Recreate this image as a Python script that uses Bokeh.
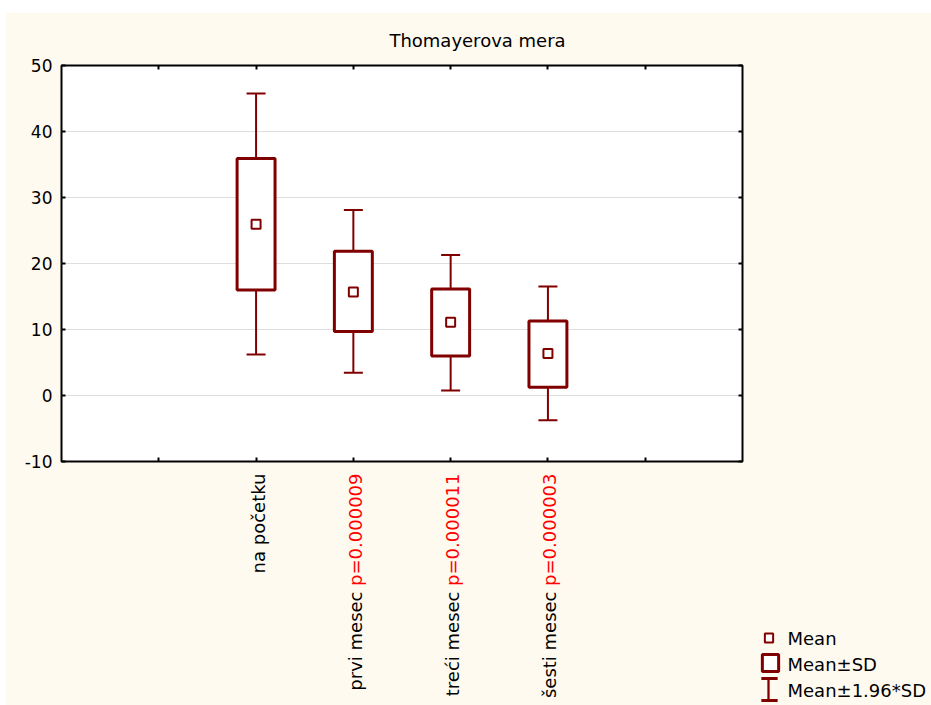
import math
from bokeh.plotting import figure
from bokeh.models import (ColumnDataSource, Range1d, LinearAxis, FixedTicker, Whisker,
                          TeeHead, Label, Grid)
from bokeh.embed import file_html
from bokeh.resources import INLINE

# ---------------- data ----------------
categories = ["na početku", "prvi mesec", "treći mesec", "šesti mesec"]
p_values = ["", "p=0.000009", "p=0.000011", "p=0.000003"]
positions = [2, 3, 4, 5]
means = [25.95, 15.7, 11.1, 6.35]
sd_low = [16.0, 9.7, 6.0, 1.25]
sd_high = [35.9, 21.85, 16.15, 11.3]
ci_low = [6.2, 3.45, 0.75, -3.75]
ci_high = [45.75, 28.1, 21.3, 16.5]
y_ticks = [-10, 0, 10, 20, 30, 40, 50]
y_tick_labels = ["-10", "0", "10", "20", "30", "40", "50"]
grid_ticks = [0, 10, 20, 30, 40]
x_ticks = [1, 2, 3, 4, 5, 6]
title_text = "Thomayerova mera"
legend_labels = ["Mean", "Mean±SD", "Mean±1.96*SD"]

CREAM = "#fffaf0"
MAROON = "#800000"
FONT = "DejaVu Sans"
W, H = 926, 693

src = ColumnDataSource(dict(x=positions, mean=means, lo=sd_low, hi=sd_high,
                            clo=ci_low, chi=ci_high))

p = figure(width=W, height=H, x_range=Range1d(0, 7), y_range=Range1d(-10, 50),
           output_backend="svg", toolbar_location=None,
           x_axis_location=None, y_axis_location=None,
           min_border_left=56, min_border_right=189, min_border_top=53,
           min_border_bottom=244,
           background_fill_color="white", border_fill_color=CREAM,
           outline_line_color="black", outline_line_width=2)
p.xgrid.visible = False
p.ygrid.visible = False
p.title.visible = False
p.margin = (12, 0, 0, 5)


def mk_axis(ticks, labels):
    ax = LinearAxis(ticker=FixedTicker(ticks=ticks))
    ax.axis_line_color = None
    ax.major_tick_in = 4
    ax.major_tick_out = 0
    ax.major_tick_line_color = "black"
    ax.major_tick_line_width = 2
    ax.minor_tick_line_color = None
    if labels:
        ax.major_label_text_font = FONT
        ax.major_label_text_font_size = "17px"
        ax.major_label_text_color = "black"
        ax.major_label_standoff = 9
        ax.major_label_overrides = dict(zip(ticks, y_tick_labels))
    else:
        ax.major_label_text_font_size = "0px"
        ax.major_label_text_color = None
        ax.major_label_standoff = 0
    return ax


p.add_layout(mk_axis(y_ticks, True), "left")
p.add_layout(mk_axis(y_ticks, False), "right")
p.add_layout(mk_axis(x_ticks, False), "below")
p.add_layout(mk_axis(x_ticks, False), "above")
p.add_layout(Grid(dimension=1, ticker=FixedTicker(ticks=grid_ticks),
                  grid_line_color="#dedede", grid_line_width=1))

# whiskers (drawn under boxes)
p.add_layout(Whisker(source=src, base="x", lower="clo", upper="chi",
                     line_color=MAROON, line_width=2,
                     lower_head=TeeHead(size=19, line_color=MAROON, line_width=2),
                     upper_head=TeeHead(size=19, line_color=MAROON, line_width=2)))

p.vbar(x="x", bottom="lo", top="hi", width=0.39, source=src,
       fill_color="white", line_color=MAROON, line_width=3)
p.scatter(x="x", y="mean", source=src, marker="square", size=9,
          fill_color="white", line_color=MAROON, line_width=2)

# title (side-panel label, canvas units)
p.add_layout(Label(x=472, y=28, x_units="canvas", y_units="canvas", text=title_text,
                   text_align="center", text_baseline="middle",
                   text_font=FONT, text_font_size="18px", text_color="black"),
             "below")

# category labels (rotated, black name + red p-value); placed in the right
# side panel (not clipped), positioned with data x / canvas y
for pos, name, pv in zip(positions, categories, p_values):
    if pv:
        p.add_layout(Label(x=pos, y=461, x_units="data", y_units="canvas",
                           x_offset=2, angle=math.pi / 2, text=pv,
                           text_align="right", text_baseline="middle",
                           text_font=FONT, text_font_size="18px", text_color="red"),
                     "right")
        p.add_layout(Label(x=pos, y=579, x_units="data", y_units="canvas",
                           x_offset=2, angle=math.pi / 2, text=name,
                           text_align="right", text_baseline="middle",
                           text_font=FONT, text_font_size="18px", text_color="black"),
                     "right")
    else:
        p.add_layout(Label(x=pos, y=461, x_units="data", y_units="canvas",
                           x_offset=2, angle=math.pi / 2, text=name,
                           text_align="right", text_baseline="middle",
                           text_font=FONT, text_font_size="18px", text_color="black"),
                     "right")

# ---------------- legend ----------------
for lab, yy in zip(legend_labels, [626, 652, 678]):
    p.add_layout(Label(x=782, y=yy, x_units="canvas", y_units="canvas", text=lab,
                       text_align="left", text_baseline="middle",
                       text_font=FONT, text_font_size="18px", text_color="black"),
                 "below")


def key_box(cx, cy, pad, fill, border_w):
    return Label(x=cx, y=cy, x_units="canvas", y_units="canvas", text=".",
                 text_font_size="1px", text_align="center", text_baseline="middle",
                 text_color=fill, padding=pad,
                 background_fill_color=fill, background_fill_alpha=1.0,
                 border_line_color=MAROON if border_w else None,
                 border_line_width=border_w or 1)


p.add_layout(key_box(763.5, 625.5, 4, "white", 2), "below")
p.add_layout(key_box(765, 650.5, 8, "white", 3), "below")
# whisker key: stem + two caps, padding given as (x, y)
p.add_layout(key_box(763, 677, (1, 10), MAROON, 0), "below")
p.add_layout(key_box(764, 666, (8, 1), MAROON, 0), "below")
p.add_layout(key_box(764, 688, (8, 1), MAROON, 0), "below")

open("out.html", "w").write(file_html(p, INLINE))
